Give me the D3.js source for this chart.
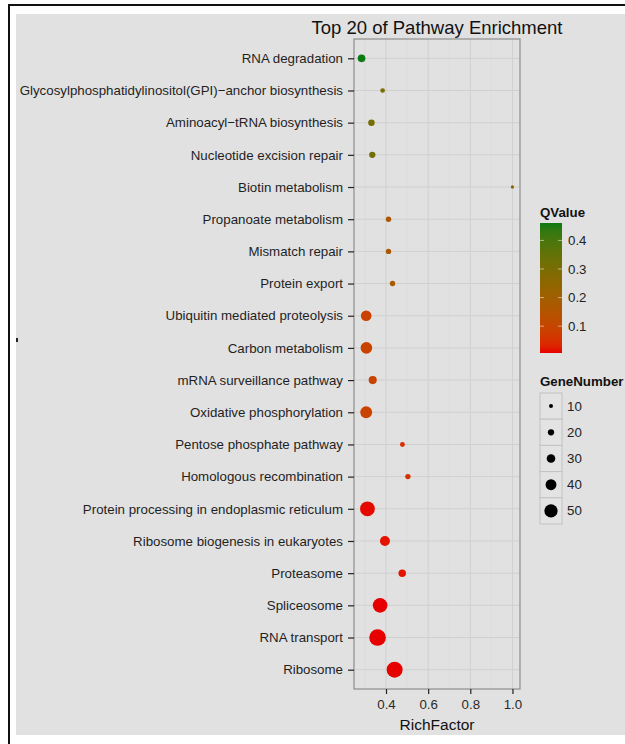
<!DOCTYPE html>
<html>
<head>
<meta charset="utf-8">
<script src="https://cdn.jsdelivr.net/npm/d3@7"></script>
<style>
  html, body { margin: 0; padding: 0; background: #ffffff; }
  svg { display: block; font-family: "Liberation Sans", Arial, Helvetica, sans-serif; }
</style>
</head>
<body>
<svg id="chart" width="625" height="744"></svg>
<script>
// Pathway enrichment: top 20 KEGG pathways (listed top to bottom)
const pathways = [
  "RNA degradation",
  "Glycosylphosphatidylinositol(GPI)\u2212anchor biosynthesis",
  "Aminoacyl\u2212tRNA biosynthesis",
  "Nucleotide excision repair",
  "Biotin metabolism",
  "Propanoate metabolism",
  "Mismatch repair",
  "Protein export",
  "Ubiquitin mediated proteolysis",
  "Carbon metabolism",
  "mRNA surveillance pathway",
  "Oxidative phosphorylation",
  "Pentose phosphate pathway",
  "Homologous recombination",
  "Protein processing in endoplasmic reticulum",
  "Ribosome biogenesis in eukaryotes",
  "Proteasome",
  "Spliceosome",
  "RNA transport",
  "Ribosome"
];
const richFactor = [0.284, 0.384, 0.331, 0.335, 1.0, 0.412, 0.412, 0.431, 0.306, 0.307,
                    0.337, 0.306, 0.478, 0.504, 0.312, 0.395, 0.477, 0.372, 0.360, 0.441];
const qValue     = [0.461, 0.30, 0.31, 0.31, 0.27, 0.17, 0.17, 0.18, 0.09, 0.09,
                    0.095, 0.09, 0.05, 0.05, 0.01, 0.015, 0.015, 0.006, 0.006, 0.006];
const geneNumber = [26, 13, 21, 20, 7, 16, 16, 16, 39, 43,
                    28, 44, 14, 16, 57, 36, 25, 56, 65, 62];

const xTicks = [0.4, 0.6, 0.8, 1.0];
const xMinor = [0.3, 0.5, 0.7, 0.9];
const qTicks = [0.1, 0.2, 0.3, 0.4];
const sizeBreaks = [10, 20, 30, 40, 50];

const svg = d3.select("#chart");
const panel = { left: 354, right: 520, top: 39, bottom: 689 };
const FONT = "Liberation Sans, Arial, sans-serif";

// frame + plot background
svg.append("rect").attr("x", 16).attr("y", 14).attr("width", 609).attr("height", 721).attr("fill", "#e1e1e1");
svg.append("rect").attr("x", 8).attr("y", 4).attr("width", 2).attr("height", 740).attr("fill", "#111");
svg.append("rect").attr("x", 8).attr("y", 4).attr("width", 617).attr("height", 2).attr("fill", "#111");
svg.append("rect").attr("x", 16).attr("y", 338).attr("width", 2).attr("height", 4).attr("fill", "#222");

// scales
const ext = d3.extent(richFactor);
const pad = 0.05 * (ext[1] - ext[0]);
const x = d3.scaleLinear().domain([ext[0] - pad, ext[1] + pad]).range([panel.left, panel.right]);
const y = d3.scalePoint().domain(pathways).range([panel.top, panel.bottom]).padding(0.6);
const qExt = d3.extent(qValue);
const color = d3.scaleLinear().domain(qExt).range(["#e60000", "#0a7a12"]).interpolate(d3.interpolateLab);
const radius = d3.scaleLinear().domain([10, 50]).range([2.0, 6.6]);

// panel grid
const g = svg.append("g");
g.selectAll("line.minor").data(xMinor).join("line")
  .attr("x1", d => x(d)).attr("x2", d => x(d))
  .attr("y1", panel.top).attr("y2", panel.bottom)
  .attr("stroke", "#d9d9d9").attr("stroke-width", 0.6);
g.selectAll("line.majx").data(xTicks).join("line")
  .attr("x1", d => x(d)).attr("x2", d => x(d))
  .attr("y1", panel.top).attr("y2", panel.bottom)
  .attr("stroke", "#d0d0d0").attr("stroke-width", 1);
g.selectAll("line.majy").data(pathways).join("line")
  .attr("x1", panel.left).attr("x2", panel.right)
  .attr("y1", d => y(d)).attr("y2", d => y(d))
  .attr("stroke", "#d0d0d0").attr("stroke-width", 1);

// points
const pts = pathways.map((p, i) => ({ p, r: richFactor[i], q: qValue[i], n: geneNumber[i] }));
svg.append("g").selectAll("circle").data(pts).join("circle")
  .attr("cx", d => x(d.r)).attr("cy", d => y(d.p))
  .attr("r", d => radius(d.n))
  .attr("fill", d => color(d.q));

// panel border
svg.append("rect").attr("x", panel.left).attr("y", panel.top)
  .attr("width", panel.right - panel.left).attr("height", panel.bottom - panel.top)
  .attr("fill", "none").attr("stroke", "#8e8e8e").attr("stroke-width", 1.2);

// axes
const xAxis = svg.append("g").attr("transform", `translate(0,${panel.bottom})`)
  .call(d3.axisBottom(x).tickValues(xTicks).tickFormat(d3.format(".1f")).tickSize(5).tickPadding(6));
xAxis.select(".domain").remove();
xAxis.selectAll("line").attr("stroke", "#222").attr("stroke-width", 1.2);
xAxis.selectAll("text").attr("font-size", 13.3).attr("fill", "#2b2b2b").attr("font-family", FONT);

const yAxis = svg.append("g").attr("transform", `translate(${panel.left},0)`)
  .call(d3.axisLeft(y).tickSize(6).tickPadding(5));
yAxis.select(".domain").remove();
yAxis.selectAll("line").attr("stroke", "#222").attr("stroke-width", 1.2);
yAxis.selectAll("text").attr("font-size", 13.3).attr("fill", "#1f1f1f").attr("font-family", FONT);

// titles
svg.append("text").attr("x", (panel.left + panel.right) / 2).attr("y", 34)
  .attr("text-anchor", "middle").attr("font-size", 18.5).attr("fill", "#111")
  .text("Top 20 of Pathway Enrichment");
svg.append("text").attr("x", (panel.left + panel.right) / 2).attr("y", 730)
  .attr("text-anchor", "middle").attr("font-size", 15.5).attr("fill", "#111")
  .text("RichFactor");

// QValue colour bar
const cb = { x: 540, w: 22, top: 223, bottom: 353 };
const cy = d3.scaleLinear().domain(qExt).range([cb.bottom, cb.top]);
const defs = svg.append("defs");
const grad = defs.append("linearGradient").attr("id", "qgrad")
  .attr("x1", 0).attr("y1", 1).attr("x2", 0).attr("y2", 0);
d3.range(0, 1.0001, 0.05).forEach(t => {
  grad.append("stop").attr("offset", t).attr("stop-color", color(qExt[0] + t * (qExt[1] - qExt[0])));
});
svg.append("text").attr("x", 540).attr("y", 217).attr("font-size", 13.3).attr("font-weight", "bold")
  .attr("fill", "#111").text("QValue");
svg.append("rect").attr("x", cb.x).attr("y", cb.top).attr("width", cb.w).attr("height", cb.bottom - cb.top)
  .attr("fill", "url(#qgrad)");
const cbt = svg.append("g");
cbt.selectAll("line.l").data(qTicks).join("line")
  .attr("x1", cb.x).attr("x2", cb.x + 4).attr("y1", d => cy(d)).attr("y2", d => cy(d))
  .attr("stroke", "#ffffff").attr("stroke-opacity", 0.5);
cbt.selectAll("line.r").data(qTicks).join("line")
  .attr("x1", cb.x + cb.w - 4).attr("x2", cb.x + cb.w).attr("y1", d => cy(d)).attr("y2", d => cy(d))
  .attr("stroke", "#ffffff").attr("stroke-opacity", 0.5);
cbt.selectAll("text").data(qTicks).join("text")
  .attr("x", 568).attr("y", d => cy(d) + 4.6).attr("font-size", 13.3).attr("fill", "#222")
  .text(d3.format(".1f"));

// GeneNumber size legend
svg.append("text").attr("x", 540).attr("y", 386).attr("font-size", 13.3).attr("font-weight", "bold")
  .attr("fill", "#111").text("GeneNumber");
const keyH = 26.2, keyTop = 393;
const keys = svg.append("g").selectAll("g").data(sizeBreaks).join("g")
  .attr("transform", (d, i) => `translate(540,${keyTop + i * keyH})`);
keys.append("rect").attr("width", 22).attr("height", keyH)
  .attr("fill", "#e3e3e3").attr("stroke", "#c2c2c2").attr("stroke-width", 1);
keys.append("circle").attr("cx", 11).attr("cy", keyH / 2).attr("r", d => radius(d)).attr("fill", "#000");
keys.append("text").attr("x", 27).attr("y", keyH / 2 + 4.6).attr("font-size", 13.3).attr("fill", "#222")
  .text(d => d);
</script>
</body>
</html>
